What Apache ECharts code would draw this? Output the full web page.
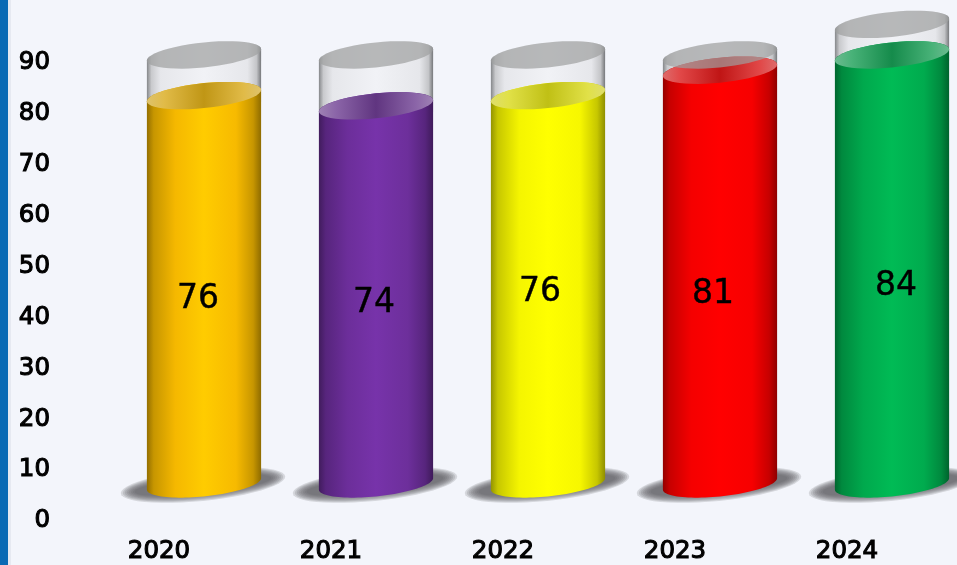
<!DOCTYPE html>
<html>
<head>
<meta charset="utf-8">
<script src="https://cdn.jsdelivr.net/npm/echarts@6/dist/echarts.min.js"></script>
<style>
  html, body { margin: 0; padding: 0; background: #f3f5fb; }
  #chart { width: 957px; height: 565px; }
</style>
</head>
<body>
<div id="chart"></div>
<script>
const years = ["2020", "2021", "2022", "2023", "2024"];
const fillValues = [76, 74, 76, 81, 84];
const glassValues = [84, 84, 84, 84, 90];
const yTicks = [0, 10, 20, 30, 40, 50, 60, 70, 80, 90];

const fillColors = [[255, 192, 0], [112, 48, 160], [255, 255, 0], [255, 0, 0], [0, 176, 80]];

// the cylinders stand a little above the zero line, like a 3d floor
const floorValue = 7.29;
const topLift = 0.3;
const skew = 0.1;
const labelNudge = [[-6, 10], [-2, 9], [-8, 3], [-7, 17], [4, 17]];

function rgb(c, k) {
  return "rgb(" + c.map(v => Math.min(255, Math.round(v * k))).join(",") + ")";
}
function mix(c, m, t) {
  return "rgb(" + c.map((v, i) => Math.round(v * (1 - t) + m[i] * t)).join(",") + ")";
}

// points on a sheared ellipse, so the sides of the tube stay vertical
function arc(cx, cy, a, b, from, to) {
  const pts = [];
  for (let i = 0; i <= 48; i++) {
    const t = from + (to - from) * i / 48;
    const dx = a * Math.cos(t);
    pts.push([cx + dx, cy - skew * dx + b * Math.sin(t)]);
  }
  return pts;
}
function horizontal(stops) {
  return {
    type: "linear", x: 0, y: 0, x2: 1, y2: 0,
    colorStops: stops.map(s => ({ offset: s[0], color: s[1] }))
  };
}

function renderCylinder(params, api) {
  const i = api.value(0);
  const a = api.size([1, 0])[0] * 0.332;
  const b = 12.5;
  const base = api.coord([i, floorValue]);
  const cx = base[0];
  const yBase = base[1];
  const yFill = api.coord([i, api.value(1) + floorValue + topLift])[1];
  const yGlass = api.coord([i, api.value(2) + floorValue + topLift])[1];
  const c = fillColors[i];

  const bodyFill = horizontal([
    [0, rgb(c, 0.58)], [0.06, rgb(c, 0.78)], [0.25, rgb(c, 0.96)], [0.5, rgb(c, 1.06)],
    [0.78, rgb(c, 0.97)], [0.93, rgb(c, 0.78)], [1, rgb(c, 0.56)]
  ]);
  const surfaceFill = horizontal([
    [0, mix(c, [195, 195, 195], 0.55)], [0.15, mix(c, [180, 180, 180], 0.4)],
    [0.5, mix(c.map(v => v * 0.78), [150, 150, 150], 0.14)],
    [0.85, mix(c, [180, 180, 180], 0.4)], [1, mix(c, [195, 195, 195], 0.55)]
  ]);
  const glassFill = horizontal([
    [0, "#85878a"], [0.04, "#c9cacd"], [0.12, "#e6e7eb"], [0.5, "#f1f2f6"],
    [0.88, "#e6e7eb"], [0.96, "#c4c5c8"], [1, "#76787b"]
  ]);

  const glassBody = arc(cx, yFill, a, b, Math.PI, 0).concat(arc(cx, yGlass, a, b, 0, -Math.PI));
  const fillBody = arc(cx, yBase, a, b, Math.PI, 0).concat(arc(cx, yFill, a, b, 0, -Math.PI));

  // soft floor shadow, a stack of faint ellipses
  const shadow = [];
  for (let k = 0; k < 8; k++) {
    shadow.push({
      type: "polygon",
      shape: { points: arc(cx - 1, yBase + 1, a * (1.44 - k * 0.035), 16 - k * 1.1, 0, Math.PI * 2) },
      style: { fill: "rgba(95,96,100,0.2)" }
    });
  }

  return {
    type: "group",
    children: shadow.concat([
      { type: "polygon", shape: { points: glassBody }, style: { fill: glassFill } },
      { type: "polygon", shape: { points: fillBody }, style: { fill: bodyFill } },
      { type: "polygon", shape: { points: arc(cx, yFill, a, b, 0, Math.PI * 2) }, style: { fill: surfaceFill } },
      {
        type: "polygon",
        shape: { points: arc(cx, yGlass, a, b, 0, Math.PI * 2) },
        style: { fill: "rgba(158,159,160,0.7)" }
      },
      {
        type: "text",
        style: {
          text: String(fillValues[i]),
          x: cx + labelNudge[i][0],
          y: (yBase + yFill) / 2 + labelNudge[i][1],
          align: "center",
          verticalAlign: "middle",
          font: "33px 'DejaVu Sans'",
          fill: "#000",
          stroke: "#000",
          lineWidth: 0.4
        }
      }
    ])
  };
}

var chartDom = document.getElementById("chart");
var myChart = echarts.init(chartDom);

const tickFont = {
  color: "#000",
  fontFamily: "DejaVu Sans",
  fontSize: 24.5,
  textBorderColor: "#000",
  textBorderWidth: 1.1
};

let option = {
  animation: false,
  backgroundColor: "#f3f5fb",
  grid: { left: 118, width: 860, top: 63, height: 458, outerBoundsMode: "none" },
  graphic: [
    { type: "rect", z: 10, shape: { x: 8, y: 0, width: 3, height: 565 }, style: { fill: "#e6e9f1" } },
    { type: "rect", z: 11, shape: { x: 0, y: 0, width: 8, height: 565 }, style: { fill: "#0a6ab4" } }
  ],
  xAxis: {
    type: "category",
    data: years,
    axisLine: { show: false },
    axisTick: { show: false },
    axisLabel: Object.assign({ margin: 18, padding: [0, 90, 0, 0] }, tickFont)
  },
  yAxis: {
    type: "value",
    min: yTicks[0],
    max: yTicks[yTicks.length - 1],
    interval: 10,
    splitLine: { show: false },
    axisLine: { show: false },
    axisTick: { show: false },
    axisLabel: Object.assign({ margin: 68 }, tickFont)
  },
  series: [
    {
      type: "custom",
      renderItem: renderCylinder,
      clip: false,
      data: years.map((y, i) => [i, fillValues[i], glassValues[i]]),
      encode: { x: 0, y: 1 }
    }
  ]
};

option && myChart.setOption(option);
</script>
</body>
</html>
